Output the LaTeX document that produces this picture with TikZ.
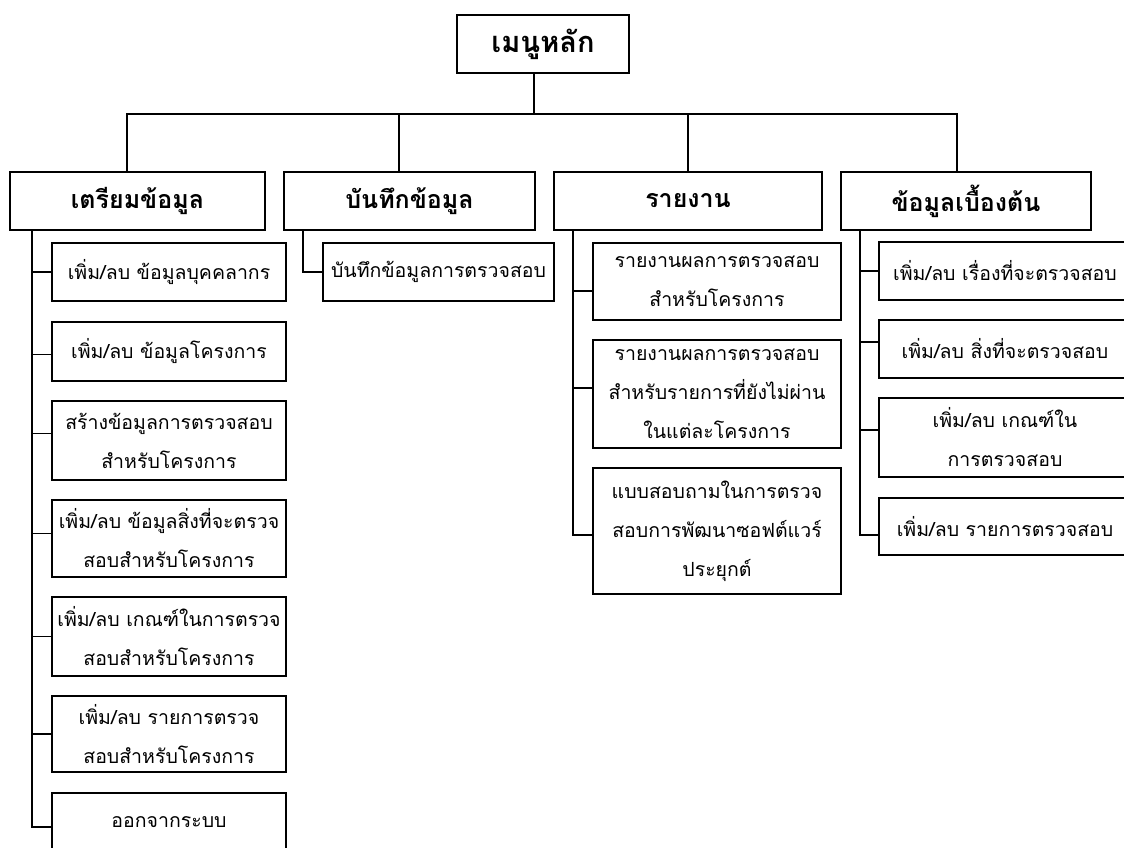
\documentclass[tikz,border=0pt]{standalone}
\usepackage{fontspec}
\newfontfamily\thaifont[Script=Thai]{Loma}
\begin{document}
\begin{tikzpicture}[x=1pt,y=-1pt,
  box/.style={draw, line width=1.2pt, inner sep=0pt, outer sep=0pt, align=center, anchor=north west},
  mainbox/.style={box, font=\thaifont\bfseries\fontsize{29}{34}\selectfont},
  topbox/.style={box, font=\thaifont\bfseries\fontsize{25}{30}\selectfont},
  subbox/.style={box, font=\thaifont\fontsize{19.5}{39}\selectfont},
  wire/.style={line width=1.2pt}]
\useasboundingbox (0,0) rectangle (1124,847);
\clip (0,0) rectangle (1124,847);
\fill[white] (0,0) rectangle (1124,847);

% main
\node[mainbox, minimum width=172pt, minimum height=58pt] (main) at (457,15) {เมนูหลัก};
% level 1
\node[topbox, minimum width=255pt, minimum height=58pt] (A) at (10,172) {เตรียมข้อมูล};
\node[topbox, minimum width=251pt, minimum height=58pt] (B) at (284,172) {บันทึกข้อมูล};
\node[topbox, minimum width=268pt, minimum height=58pt] (C) at (554,172) {รายงาน};
\node[topbox, minimum width=250pt, minimum height=58pt] (D) at (841,172) {ข้อมูลเบื้องต้น};

\coordinate (mb) at (534,73);
\coordinate (bus) at (534,114);
\coordinate (dA) at (127,172);
\coordinate (dB) at (399,172);
\coordinate (dC) at (688,172);
\coordinate (dD) at (957,172);
\draw[wire] (mb) -- (bus);
\draw[wire] (bus) -| (dA);
\draw[wire] (bus) -| (dB);
\draw[wire] (bus) -| (dC);
\draw[wire] (bus) -| (dD);

% A subs
\node[subbox, minimum width=234pt, minimum height=58pt] (a1) at (52,243) {เพิ่ม/ลบ ข้อมูลบุคคลากร};
\node[subbox, minimum width=234pt, minimum height=59pt] (a2) at (52,322) {เพิ่ม/ลบ ข้อมูลโครงการ};
\node[subbox, minimum width=234pt, minimum height=79pt] (a3) at (52,401) {สร้างข้อมูลการตรวจสอบ\\สำหรับโครงการ};
\node[subbox, minimum width=234pt, minimum height=77pt] (a4) at (52,500) {เพิ่ม/ลบ ข้อมูลสิ่งที่จะตรวจ\\สอบสำหรับโครงการ};
\node[subbox, minimum width=234pt, minimum height=79pt] (a5) at (52,597) {เพิ่ม/ลบ เกณฑ์ในการตรวจ\\สอบสำหรับโครงการ};
\node[subbox, minimum width=234pt, minimum height=76pt] (a6) at (52,696) {เพิ่ม/ลบ รายการตรวจ\\สอบสำหรับโครงการ};
\node[subbox, minimum width=234pt, minimum height=58pt] (a7) at (52,793) {ออกจากระบบ};
\coordinate (ta) at (32,230);
\draw[wire] (ta) |- (a1.west);
\draw[wire] (ta) |- ([yshift=-3pt]a2.west);
\draw[wire] (ta) |- ([yshift=7pt]a3.west);
\draw[wire] (ta) |- ([yshift=5pt]a4.west);
\draw[wire] (ta) |- (a5.west);
\draw[wire] (ta) |- (a6.west);
\draw[wire] (ta) |- ([yshift=-5pt]a7.west);

% B subs
\node[subbox, minimum width=231pt, minimum height=58pt] (b1) at (323,243) {บันทึกข้อมูลการตรวจสอบ};
\coordinate (tb) at (303,230);
\draw[wire] (tb) |- (b1.west);

% C subs
\node[subbox, minimum width=248pt, minimum height=77pt] (c1) at (593,243) {รายงานผลการตรวจสอบ\\สำหรับโครงการ};
\node[subbox, minimum width=248pt, minimum height=108pt] (c2) at (593,340) {รายงานผลการตรวจสอบ\\สำหรับรายการที่ยังไม่ผ่าน\\ในแต่ละโครงการ};
\node[subbox, minimum width=248pt, minimum height=126pt] (c3) at (593,468) {แบบสอบถามในการตรวจ\\สอบการพัฒนาซอฟต์แวร์\\ประยุกต์};
\coordinate (tc) at (573,230);
\draw[wire] (tc) |- ([yshift=-9.5pt]c1.west);
\draw[wire] (tc) |- ([yshift=6pt]c2.west);
\draw[wire] (tc) |- ([yshift=-4pt]c3.west);

% D subs
\node[subbox, minimum width=252pt, minimum height=58pt] (d1) at (879,242) {เพิ่ม/ลบ เรื่องที่จะตรวจสอบ};
\node[subbox, minimum width=252pt, minimum height=58pt] (d2) at (879,320) {เพิ่ม/ลบ สิ่งที่จะตรวจสอบ};
\node[subbox, minimum width=252pt, minimum height=79pt] (d3) at (879,398) {เพิ่ม/ลบ เกณฑ์ใน\\การตรวจสอบ};
\node[subbox, minimum width=252pt, minimum height=57pt] (d4) at (879,498) {เพิ่ม/ลบ รายการตรวจสอบ};
\coordinate (td) at (860,230);
\draw[wire] (td) |- (d1.west);
\draw[wire] (td) |- ([yshift=7pt]d2.west);
\draw[wire] (td) |- ([yshift=7.5pt]d3.west);
\draw[wire] (td) |- ([yshift=-8.5pt]d4.west);
\end{tikzpicture}
\end{document}
